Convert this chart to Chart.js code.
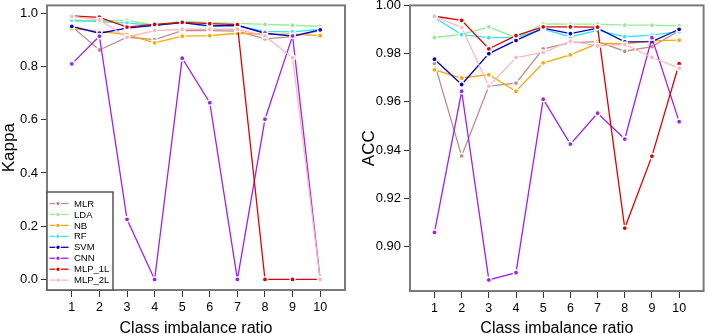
<!DOCTYPE html>
<html>
<head>
<meta charset="utf-8">
<script src="https://cdn.jsdelivr.net/npm/chart.js@4"></script>
<style>
  html, body { margin: 0; padding: 0; background: #fff; }
  #wrap { position: relative; width: 709px; height: 334px; }
  canvas { position: absolute; top: 0; }
  #kappaChart { left: 0; }
  #accChart { left: 355px; }
</style>
</head>
<body>
<div id="wrap">
  <canvas id="kappaChart" width="355" height="334"></canvas>
  <canvas id="accChart" width="354" height="334"></canvas>
</div>
<script>
// class imbalance ratios on the x axis
const ratios = [1, 2, 3, 4, 5, 6, 7, 8, 9, 10];
const models = ['MLR', 'LDA', 'NB', 'RF', 'SVM', 'CNN', 'MLP_1L', 'MLP_2L'];
const colors = ['#bc8f8f', '#90ee90', '#ffa500', '#33e6f0', '#0000cd', '#a020f0', '#e00000', '#ffb6c1'];

// Kappa per model
const kappaMLR   = [0.950, 0.862, 0.910, 0.901, 0.935, 0.935, 0.933, 0.904, 0.912, 0.935];
const kappaLDA   = [0.970, 0.972, 0.973, 0.955, 0.970, 0.965, 0.962, 0.958, 0.955, 0.951];
const kappaNB    = [0.942, 0.932, 0.920, 0.889, 0.914, 0.916, 0.925, 0.922, 0.922, 0.916];
const kappaRF    = [0.975, 0.969, 0.963, 0.955, 0.965, 0.950, 0.953, 0.932, 0.930, 0.940];
const kappaSVM   = [0.951, 0.925, 0.944, 0.955, 0.965, 0.953, 0.955, 0.925, 0.914, 0.938];
const kappaCNN   = [0.810, 0.914, 0.226, 0.000, 0.831, 0.664, 0.000, 0.602, 0.915, 0.000];
const kappaMLP1L = [0.990, 0.985, 0.948, 0.958, 0.966, 0.961, 0.957, 0.000, 0.000, 0.000];
const kappaMLP2L = [0.988, 0.975, 0.910, 0.935, 0.940, 0.940, 0.940, 0.915, 0.833, 0.000];

// ACC per model
const accMLR   = [0.9760, 0.9376, 0.9665, 0.9678, 0.9820, 0.9846, 0.9850, 0.9810, 0.9829, 0.9895];
const accLDA   = [0.9867, 0.9880, 0.9911, 0.9866, 0.9923, 0.9922, 0.9922, 0.9918, 0.9918, 0.9915];
const accNB    = [0.9733, 0.9699, 0.9713, 0.9644, 0.9762, 0.9795, 0.9842, 0.9841, 0.9853, 0.9856];
const accRF    = [0.9950, 0.9879, 0.9866, 0.9866, 0.9902, 0.9870, 0.9896, 0.9870, 0.9877, 0.9891];
const accSVM   = [0.9777, 0.9672, 0.9800, 0.9855, 0.9906, 0.9883, 0.9906, 0.9849, 0.9850, 0.9901];
const accCNN   = [0.9059, 0.9644, 0.8862, 0.8892, 0.9611, 0.9425, 0.9553, 0.9446, 0.9866, 0.9518];
const accMLP1L = [0.9955, 0.9938, 0.9820, 0.9875, 0.9911, 0.9911, 0.9910, 0.9077, 0.9375, 0.9758];
const accMLP2L = [0.9955, 0.9908, 0.9665, 0.9784, 0.9805, 0.9852, 0.9832, 0.9838, 0.9784, 0.9740];

const kappaTicks = [0, 0.2, 0.4, 0.6, 0.8, 1.0];
const accTicks = [0.90, 0.92, 0.94, 0.96, 0.98, 1.00];

const FONT = '"Liberation Sans", Arial, Helvetica, sans-serif';

function toPoints(values) {
  return values.map((v, i) => ({ x: ratios[i], y: v }));
}

function buildDatasets(seriesList) {
  return seriesList.map((vals, i) => ({
    label: models[i],
    data: toPoints(vals),
    borderColor: colors[i],
    backgroundColor: colors[i],
    borderWidth: 1.3,
    pointRadius: 2.6,
    pointBorderWidth: 1.4,
    pointBorderColor: '#fff',
    pointBackgroundColor: colors[i],
    tension: 0,
    // later models are painted on top
    order: models.length - i
  }));
}

// grey frame around the plotting region plus axis titles
const framePlugin = {
  id: 'frame',
  afterDatasetsDraw(chart, args, opts) {
    const { ctx, chartArea: a } = chart;
    ctx.save();
    ctx.strokeStyle = '#7a7a7a';
    ctx.lineWidth = 2;
    ctx.strokeRect(a.left, a.top, a.right - a.left, a.bottom - a.top);

    ctx.fillStyle = '#000';
    ctx.font = '16px ' + FONT;
    ctx.textAlign = 'center';
    ctx.textBaseline = 'alphabetic';
    ctx.fillText(opts.xTitle, (a.left + a.right) / 2, 333);

    ctx.translate(opts.yTitleX, (a.top + a.bottom) / 2);
    ctx.rotate(-Math.PI / 2);
    ctx.font = '17px ' + FONT;
    ctx.fillText(opts.yTitle, 0, 0);
    ctx.restore();
  }
};

// boxed legend in the bottom-left corner, line + point per model
const legendPlugin = {
  id: 'boxLegend',
  afterDraw(chart, args, opts) {
    if (!opts.show) return;
    const { ctx, chartArea: a } = chart;
    const x0 = a.left, y0 = 192, x1 = 113, y1 = a.bottom;
    ctx.save();
    ctx.fillStyle = '#fff';
    ctx.fillRect(x0, y0, x1 - x0, y1 - y0);
    ctx.strokeStyle = '#555';
    ctx.lineWidth = 1.5;
    ctx.strokeRect(x0, y0, x1 - x0, y1 - y0);
    ctx.font = '9.5px ' + FONT;
    ctx.textBaseline = 'middle';
    ctx.textAlign = 'left';
    models.forEach((name, i) => {
      const y = 203.5 + i * 10.95;
      ctx.strokeStyle = colors[i];
      ctx.lineWidth = 1.3;
      ctx.beginPath();
      ctx.moveTo(49.5, y);
      ctx.lineTo(68.5, y);
      ctx.stroke();
      ctx.beginPath();
      ctx.arc(58, y, 2.3, 0, Math.PI * 2);
      ctx.fillStyle = colors[i];
      ctx.fill();
      ctx.lineWidth = 1.2;
      ctx.strokeStyle = '#fff';
      ctx.stroke();
      ctx.fillStyle = '#000';
      ctx.fillText(name, 74, y + 0.5);
    });
    ctx.restore();
  }
};

function makeChart(id, seriesList, cfg) {
  return new Chart(document.getElementById(id).getContext('2d'), {
    type: 'line',
    data: { datasets: buildDatasets(seriesList) },
    options: {
      responsive: false,
      maintainAspectRatio: false,
      animation: false,
      layout: { padding: { left: 0, top: 4, right: cfg.padRight, bottom: 0 } },
      plugins: {
        legend: { display: false },
        tooltip: { enabled: false },
        frame: { xTitle: 'Class imbalance ratio', yTitle: cfg.yTitle, yTitleX: cfg.yTitleX },
        boxLegend: { show: cfg.legend }
      },
      scales: {
        x: {
          type: 'linear',
          min: 0.1,
          max: 10.9,
          afterBuildTicks: s => { s.ticks = ratios.map(v => ({ value: v })); },
          afterFit: s => { s.height = cfg.xHeight; s.paddingLeft = 0; s.paddingRight = 0; },
          border: { display: false },
          grid: { drawOnChartArea: false, tickLength: 7, tickColor: '#333', tickWidth: 1 },
          ticks: { color: '#000', padding: 3, maxRotation: 0, font: { family: FONT, size: 12.5 } }
        },
        y: {
          min: cfg.yMin,
          max: cfg.yMax,
          afterBuildTicks: s => { s.ticks = cfg.yTicks.map(v => ({ value: v })); },
          afterFit: s => { s.width = cfg.yWidth; s.paddingTop = 0; s.paddingBottom = 0; },
          border: { display: false },
          grid: { drawOnChartArea: false, tickLength: 6, tickColor: '#333', tickWidth: 1 },
          ticks: {
            color: '#000',
            padding: 3,
            font: { family: FONT, size: 13 },
            callback: v => v.toFixed(cfg.digits)
          }
        }
      }
    },
    plugins: [framePlugin, legendPlugin]
  });
}

makeChart('kappaChart',
  [kappaMLR, kappaLDA, kappaNB, kappaRF, kappaSVM, kappaCNN, kappaMLP1L, kappaMLP2L],
  { yTitle: 'Kappa', yTitleX: 14, yMin: -0.0396, yMax: 1.0296, yTicks: kappaTicks, digits: 1,
    yWidth: 47, xHeight: 44, padRight: 10, legend: true });

makeChart('accChart',
  [accMLR, accLDA, accNB, accRF, accSVM, accCNN, accMLP1L, accMLP2L],
  { yTitle: 'ACC', yTitleX: 19, yMin: 0.8816, yMax: 1.0, yTicks: accTicks, digits: 2,
    yWidth: 55, xHeight: 43, padRight: 1, legend: false });
</script>
</body>
</html>
